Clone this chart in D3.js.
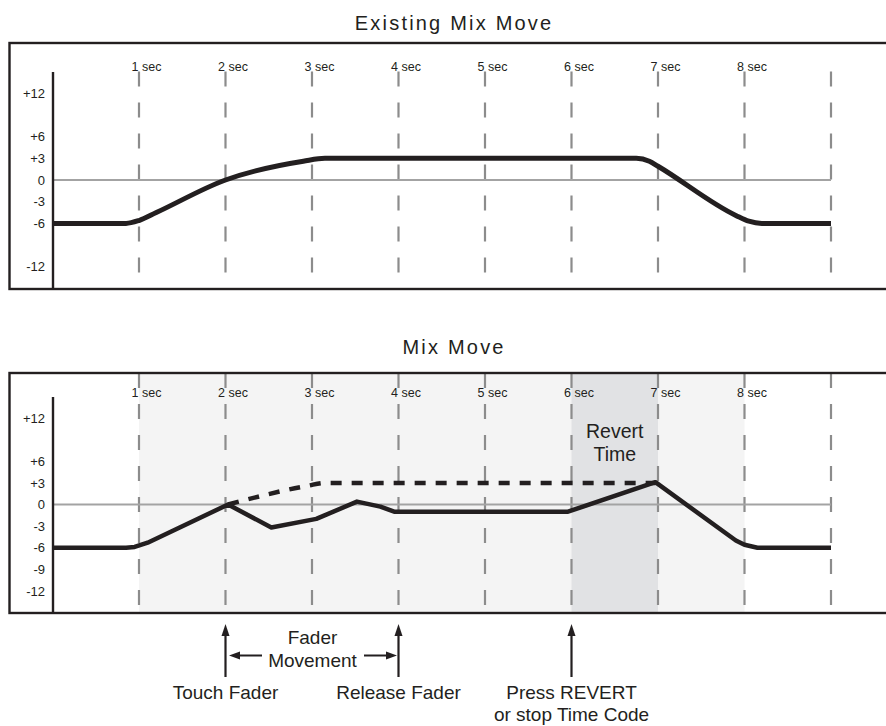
<!DOCTYPE html>
<html>
<head>
<meta charset="utf-8">
<script src="https://cdn.jsdelivr.net/npm/d3@7"></script>
<style>
  html, body { margin: 0; padding: 0; background: #fff; }
  svg { display: block; font-family: "Liberation Sans", Arial, Helvetica, sans-serif; }
</style>
</head>
<body>
<svg id="chart" width="886" height="726"></svg>
<script>
// ---------- data ----------
const gridTimes = [1, 2, 3, 4, 5, 6, 7, 8, 9];
const timeLabels = ["1 sec", "2 sec", "3 sec", "4 sec", "5 sec", "6 sec", "7 sec", "8 sec"];
const dbTicksTop = [12, 6, 3, 0, -3, -6, -12];
const dbTicksBottom = [12, 6, 3, 0, -3, -6, -9, -12];
const dbTickFmt = d => d > 0 ? "+" + d : String(d);

// Existing mix move (seconds, dB)
const existingT  = [0, 0.85, 1.0, 1.2, 2.0, 2.9, 3.15, 6.75, 6.9, 7.0, 7.9, 8.05, 8.2, 9];
const existingDb = [-6, -6, -5.6, -4.5, 0, 2.6, 3, 3, 2.6, 1.9, -4.9, -5.7, -6, -6];

// New mix move (seconds, dB)
const mixT  = [0, 0.85, 0.95, 1.1, 2.03, 2.53, 3.05, 3.52, 3.79, 3.95, 5.96, 6.97, 7.9, 8.0, 8.15, 9];
const mixDb = [-6, -6, -5.9, -5.3, 0, -3.2, -2.0, 0.4, -0.3, -1, -1, 3.1, -5.0, -5.6, -6, -6];

// Previous (overwritten) move, shown dashed
const ghostT  = [2.03, 2.95, 3.15, 6.97];
const ghostDb = [0, 2.6, 3, 3];

const shadeRange = [1, 8];
const revertRange = [6, 7];

// ---------- layout ----------
const svg = d3.select("#chart");
const ink = "#231f20";
const x = d3.scaleLinear().domain([0, 9]).range([52.5, 831]);

const panels = [
  { title: "Existing Mix Move", titleY: 30, top: 43, bottom: 289, axisTop: 71.5, labelY: 71, ticks: dbTicksTop, shaded: false },
  { title: "Mix Move", titleY: 354, top: 373, bottom: 613, axisTop: 396.5, labelY: 397, ticks: dbTicksBottom, shaded: true }
];

panels.forEach(p => {
  p.y = d3.scaleLinear().domain([-15, 15]).range([p.bottom - 0.5, p.axisTop]);
  const g = svg.append("g");

  svg.append("text").attr("x", 454.1).attr("y", p.titleY)
    .attr("text-anchor", "middle").attr("font-size", 20).attr("letter-spacing", 2.2)
    .attr("fill", ink).text(p.title);

  if (p.shaded) {
    g.append("rect").attr("x", x(shadeRange[0])).attr("y", p.top)
      .attr("width", x(shadeRange[1]) - x(shadeRange[0])).attr("height", p.bottom - p.top)
      .attr("fill", "#f4f4f4");
    g.append("rect").attr("x", x(revertRange[0])).attr("y", p.top)
      .attr("width", x(revertRange[1]) - x(revertRange[0])).attr("height", p.bottom - p.top)
      .attr("fill", "#e1e2e4");
  }

  const gridStart = p.shaded ? p.top : p.axisTop;
  g.selectAll("line.grid").data(gridTimes).join("line").attr("class", "grid")
    .attr("x1", d => x(d)).attr("x2", d => x(d))
    .attr("y1", gridStart).attr("y2", p.bottom)
    .attr("stroke", "#8c8c8c").attr("stroke-width", 2.2).attr("stroke-dasharray", "15,16");

  g.append("line").attr("x1", x(0)).attr("x2", x(9)).attr("y1", p.y(0)).attr("y2", p.y(0))
    .attr("stroke", "#a3a3a3").attr("stroke-width", 1.8);

  g.selectAll("text.time").data(timeLabels).join("text").attr("class", "time")
    .attr("x", (d, i) => x(gridTimes[i]) - 7.5).attr("y", p.labelY)
    .attr("font-size", 12.5).attr("fill", ink).text(d => d);

  const ax = g.append("g").attr("transform", `translate(${x(0)},0)`)
    .call(d3.axisLeft(p.y).tickValues(p.ticks).tickFormat(dbTickFmt).tickSize(0).tickSizeOuter(0).tickPadding(7.5));
  ax.select(".domain").attr("stroke", ink).attr("stroke-width", 2.4);
  ax.selectAll("text").attr("font-size", 13).attr("fill", ink)
    .attr("font-family", "'Liberation Sans', Arial, sans-serif");

  p.g = g;
});

// ---------- curves ----------
const pTop = panels[0], pBot = panels[1];

const lineTop = d3.line().x(d => x(d[0])).y(d => pTop.y(d[1])).curve(d3.curveMonotoneX);
pTop.g.append("path").datum(existingT.map((t, i) => [t, existingDb[i]]))
  .attr("d", lineTop).attr("fill", "none").attr("stroke", ink).attr("stroke-width", 5)
  .attr("stroke-linejoin", "round");

const ghostLine = d3.line().x(d => x(d[0])).y(d => pBot.y(d[1])).curve(d3.curveMonotoneX);
pBot.g.append("path").datum(ghostT.map((t, i) => [t, ghostDb[i]]))
  .attr("d", ghostLine).attr("fill", "none").attr("stroke", ink).attr("stroke-width", 4.5)
  .attr("stroke-dasharray", "11,10");

const mixLine = d3.line().x(d => x(d[0])).y(d => pBot.y(d[1])).curve(d3.curveLinear);
pBot.g.append("path").datum(mixT.map((t, i) => [t, mixDb[i]]))
  .attr("d", mixLine).attr("fill", "none").attr("stroke", ink).attr("stroke-width", 4.5)
  .attr("stroke-linejoin", "round");

pBot.g.append("text").attr("x", x(6.5)).attr("y", 438).attr("text-anchor", "middle")
  .attr("font-size", 19.5).attr("fill", ink).text("Revert");
pBot.g.append("text").attr("x", x(6.5)).attr("y", 461).attr("text-anchor", "middle")
  .attr("font-size", 19.5).attr("fill", ink).text("Time");

panels.forEach(p => {
  svg.append("rect").attr("x", 9.5).attr("y", p.top).attr("width", 900).attr("height", p.bottom - p.top)
    .attr("fill", "none").attr("stroke", ink).attr("stroke-width", 2.4);
});

// ---------- annotations ----------
const ann = svg.append("g").attr("fill", ink).attr("stroke", ink);
const events = [
  { t: 2, lines: ["Touch Fader"] },
  { t: 4, lines: ["Release Fader"] },
  { t: 6, lines: ["Press REVERT", "or stop Time Code"] }
];
events.forEach(e => {
  const ex = x(e.t);
  ann.append("line").attr("x1", ex).attr("x2", ex).attr("y1", 677).attr("y2", 633)
    .attr("stroke-width", 2.2);
  ann.append("path").attr("d", `M${ex},624 L${ex - 4},636 L${ex + 4},636 Z`).attr("stroke", "none");
  e.lines.forEach((s, i) => {
    ann.append("text").attr("x", ex).attr("y", 699 + i * 22).attr("text-anchor", "middle")
      .attr("font-size", 19).attr("stroke", "none").text(s);
  });
});

const fy = 655.5;
ann.append("line").attr("x1", 262).attr("x2", 238).attr("y1", fy).attr("y2", fy).attr("stroke-width", 2);
ann.append("path").attr("d", `M229,${fy} L240,${fy - 4} L240,${fy + 4} Z`).attr("stroke", "none");
ann.append("line").attr("x1", 364).attr("x2", 388).attr("y1", fy).attr("y2", fy).attr("stroke-width", 2);
ann.append("path").attr("d", `M397,${fy} L386,${fy - 4} L386,${fy + 4} Z`).attr("stroke", "none");
ann.append("text").attr("x", 312.5).attr("y", 644).attr("text-anchor", "middle")
  .attr("font-size", 19).attr("stroke", "none").text("Fader");
ann.append("text").attr("x", 312.5).attr("y", 667).attr("text-anchor", "middle")
  .attr("font-size", 19).attr("stroke", "none").text("Movement");
</script>
</body>
</html>
